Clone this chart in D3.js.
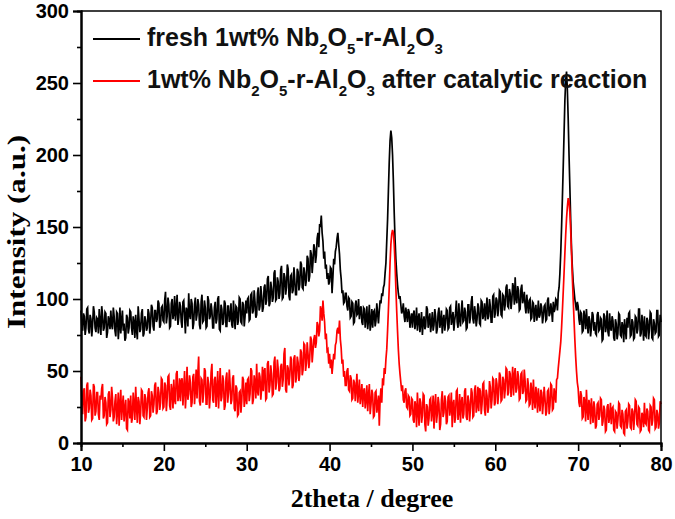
<!DOCTYPE html>
<html>
<head>
<meta charset="utf-8">
<script src="https://cdn.jsdelivr.net/npm/d3@7"></script>
<style>
  body { margin: 0; background: #fff; }
  svg { display: block; }
</style>
</head>
<body>
<div id="chart"></div>
<script>
// scan grid: 10 -> 80 deg, 0.1 deg step (one row = 2 deg)
var start = 10, step = 0.1;

var fresh = [
 92,81,78,90,88,75,80,93,94,79,76,89,86,74,82,95,91,80,77,87,
 86,76,93,84,75,95,89,78,80,91,90,73,77,88,85,79,92,82,79,94,
 88,78,74,91,90,72,81,94,76,85,92,78,83,71,73,89,87,76,80,92,
 91,80,75,88,84,73,89,79,72,95,86,77,79,90,93,74,76,88,85,78,
 80,93,90,76,83,96,94,81,78,92,92,84,86,99,97,80,82,94,95,85,
 84,99,105,83,88,101,96,80,81,97,100,86,90,102,85,93,103,82,87,98,
 95,84,80,98,99,88,76,94,92,81,104,89,86,100,97,79,83,96,101,85,
 89,100,96,82,79,98,103,84,85,99,94,80,81,102,99,86,88,97,92,80,
 80,94,98,83,86,100,102,79,78,96,93,82,84,99,97,81,81,95,95,84,
 87,97,82,80,99,88,79,95,94,82,85,101,100,84,83,98,96,81,88,99,
 90,100,101,85,86,103,104,90,92,106,98,87,89,104,108,92,95,109,102,91,
 94,108,110,96,99,114,116,95,97,112,107,98,101,118,120,99,100,115,112,100,
 104,120,123,100,101,118,115,103,108,124,121,102,99,116,117,104,106,122,113,103,
 103,121,119,106,110,126,124,108,107,122,118,109,113,130,128,112,116,134,131,118,
 126,138,135,125,130,142,146,136,152,150,158,146,140,128,133,121,124,114,118,110,
 112,122,121,104,115,128,124,133,136,142,146,138,131,120,114,104,106,97,98,104,
 104,95,92,101,100,87,88,98,97,83,84,96,99,89,90,100,86,93,95,84,
 82,94,93,80,87,95,79,86,96,78,84,93,80,91,92,81,85,97,90,83,
 92,99,97,104,102,108,110,118,125,140,155,175,195,210,217,212,200,182,160,142,
 128,118,110,104,100,102,96,90,92,97,88,84,94,89,84,93,91,80,86,90,
 80,89,92,79,84,94,78,86,90,77,83,91,75,84,88,79,81,95,93,80,
 85,90,77,83,91,78,82,93,88,76,79,90,94,80,84,92,76,85,89,78,
 83,93,92,79,80,94,95,82,86,91,78,85,90,99,84,80,97,86,81,92,
 99,84,85,94,91,79,80,96,96,83,87,98,102,86,83,95,90,81,86,97,
 94,83,82,99,98,86,89,97,85,92,101,86,88,100,95,84,84,102,103,87,
 90,101,99,88,93,106,105,89,88,103,102,92,96,108,110,95,94,107,104,93,
 99,111,108,96,115,100,97,109,106,92,93,107,110,97,100,105,95,90,103,96,
 90,99,100,86,87,98,97,84,92,96,85,89,99,87,89,97,94,83,88,95,
 96,85,86,99,101,88,90,97,92,84,98,91,93,100,99,92,104,108,118,132,
 150,170,192,215,238,252,258,245,225,200,178,155,135,122,112,106,100,96,92,98,
 95,86,82,91,90,77,78,92,87,79,93,84,76,88,85,74,80,91,89,78,
 84,76,75,89,91,78,79,87,86,71,72,90,88,77,81,92,77,74,90,80,
 78,88,85,73,71,86,83,72,76,90,89,75,74,84,81,70,86,79,72,87,
 80,90,91,74,75,86,84,72,73,88,87,76,79,93,93,74,76,89,82,71,
 88,75,74,87,85,72,79,91,90,73,72,86,83,76,77,92,92,74,75,89,
 84
];

var used = [
 46,30,20,36,38,15,18,40,42,21,24,37,33,16,17,41,39,19,22,35,
 35,20,16,33,30,38,41,17,19,32,28,13,14,34,36,18,23,39,31,15,
 18,29,34,13,22,35,12,27,37,16,26,33,15,24,30,10,9,31,28,17,
 33,14,17,35,27,16,39,25,14,32,29,13,21,37,36,19,18,34,31,16,
 24,35,38,18,19,36,33,21,27,40,42,20,22,39,35,23,28,45,44,24,
 25,42,40,22,31,46,47,26,23,41,36,24,44,30,27,48,50,29,33,45,
 29,43,45,26,38,50,24,35,53,30,34,47,42,25,28,46,48,27,37,51,
 31,48,60,29,26,45,44,28,35,52,50,27,27,46,41,24,33,49,55,30,
 28,44,46,25,37,50,24,38,52,29,32,47,43,23,26,45,49,28,35,51,
 40,27,30,45,47,24,22,40,38,19,20,35,36,21,29,46,44,25,31,42,
 27,44,45,29,34,52,50,27,30,47,42,31,55,36,33,49,46,30,38,53,
 36,50,52,30,31,55,57,35,40,54,48,33,34,56,60,37,42,58,51,36,
 38,53,55,39,44,62,66,37,35,54,52,40,47,60,58,38,40,59,61,42,
 45,60,56,43,48,65,63,47,51,69,68,50,55,70,62,52,58,74,72,56,
 64,72,75,66,70,84,82,74,78,95,92,85,99,90,84,72,76,64,65,55,
 62,52,58,48,55,62,58,68,70,78,80,76,85,72,66,55,58,46,50,40,
 40,50,52,37,36,47,45,30,31,44,42,29,38,48,28,35,44,27,33,41,
 25,36,38,24,30,40,22,33,41,20,27,37,34,18,19,35,36,21,26,33,
 12,30,38,28,45,40,52,48,58,65,78,92,108,125,138,145,148,146,138,125,
 108,92,78,65,55,48,42,36,40,30,28,36,38,25,24,33,32,19,20,31,
 30,16,14,29,26,11,35,22,12,31,28,14,19,34,33,13,8,27,25,12,
 17,30,31,15,22,33,10,26,34,14,20,32,27,9,13,30,36,18,21,33,
 29,13,15,32,33,19,24,35,11,27,30,14,18,36,37,16,22,34,14,28,
 32,17,20,36,38,18,16,33,29,15,24,38,35,18,19,37,40,21,26,39,
 22,38,36,20,27,41,42,23,19,37,33,21,25,43,39,24,30,45,44,26,
 28,45,41,27,34,49,47,29,30,46,44,31,37,52,51,33,35,50,48,32,
 42,53,33,47,52,35,38,50,46,30,31,48,49,34,36,51,43,29,30,45,
 40,26,27,42,36,23,44,30,24,39,33,21,38,28,22,37,35,20,28,39,
 31,19,22,36,37,20,26,41,40,23,24,38,33,28,44,45,52,58,64,70,
 80,92,105,118,132,145,156,164,170,168,160,148,132,115,100,86,72,60,50,42,
 38,28,25,36,33,17,18,32,29,15,37,24,16,30,26,13,31,22,14,29,
 24,10,12,27,28,16,19,31,30,12,15,26,23,8,9,25,27,14,18,28,
 13,24,25,9,8,22,21,10,16,28,27,12,11,23,20,7,6,22,23,10,
 15,27,26,11,10,24,22,9,17,30,29,13,12,25,24,8,9,21,19,11,
 28,14,13,24,22,9,8,26,25,12,16,31,30,10,11,23,20,10,14,29,
 27
];

var xTicks = [10, 20, 30, 40, 50, 60, 70, 80];
var xMinor = [15, 25, 35, 45, 55, 65, 75];
var yTicks = [0, 50, 100, 150, 200, 250, 300];
var yMinor = [25, 75, 125, 175, 225, 275];

var w = 675, h = 519;
var svg = d3.select("#chart").append("svg").attr("width", w).attr("height", h);

var x = d3.scaleLinear().domain([10, 80]).range([81, 661]);
var y = d3.scaleLinear().domain([0, 300]).range([443, 11]);

var line = d3.line()
  .x(function (d, i) { return x(start + i * step); })
  .y(function (d) { return y(d); });

svg.append("path").datum(fresh)
  .attr("d", line).attr("fill", "none")
  .attr("stroke", "#000").attr("stroke-width", 1.7);
svg.append("path").datum(used)
  .attr("d", line).attr("fill", "none")
  .attr("stroke", "#ff0000").attr("stroke-width", 1.7);

// frame top / right
svg.append("path")
  .attr("d", "M" + x(10) + "," + y(300) + "H" + x(80) + "V" + y(0))
  .attr("fill", "none").attr("stroke", "#000").attr("stroke-width", 1.5);

function styleAxis(g) {
  g.select(".domain").attr("stroke-width", 2);
  g.selectAll(".tick line").attr("stroke-width", 1.6);
  g.selectAll("text")
    .attr("font-family", "Arial, 'Liberation Sans', sans-serif")
    .attr("font-weight", "bold")
    .attr("font-size", "20px")
    .attr("fill", "#000");
}

svg.append("g").attr("transform", "translate(0," + y(0) + ")")
  .call(d3.axisBottom(x).tickValues(xTicks).tickSize(8).tickPadding(6).tickFormat(d3.format("d")))
  .call(styleAxis);
svg.append("g").attr("transform", "translate(0," + y(0) + ")")
  .call(d3.axisBottom(x).tickValues(xMinor).tickSize(4).tickFormat(""))
  .call(styleAxis);
svg.append("g").attr("transform", "translate(" + x(10) + ",0)")
  .call(d3.axisLeft(y).tickValues(yTicks).tickSize(8).tickPadding(4).tickFormat(d3.format("d")))
  .call(styleAxis);
svg.append("g").attr("transform", "translate(" + x(10) + ",0)")
  .call(d3.axisLeft(y).tickValues(yMinor).tickSize(4).tickFormat(""))
  .call(styleAxis);

// axis titles
svg.append("text")
  .attr("x", 372).attr("y", 507)
  .attr("text-anchor", "middle")
  .attr("font-family", "'Times New Roman', 'Liberation Serif', serif")
  .attr("font-weight", "bold").attr("font-size", "26px")
  .text("2theta / degree");
svg.append("text")
  .attr("transform", "translate(25,232) rotate(-90)")
  .attr("text-anchor", "middle")
  .attr("font-family", "'Times New Roman', 'Liberation Serif', serif")
  .attr("font-weight", "bold").attr("font-size", "25px")
  .attr("textLength", 194).attr("lengthAdjust", "spacingAndGlyphs")
  .text("Intensity (a.u.)");

// legend
var legend = [
  { color: "#000", parts: [["fresh 1wt% Nb"], ["2", 1], ["O"], ["5", 1], ["-r-Al"], ["2", 1], ["O"], ["3", 1]] },
  { color: "#ff0000", parts: [["1wt% Nb"], ["2", 1], ["O"], ["5", 1], ["-r-Al"], ["2", 1], ["O"], ["3", 1], [" after catalytic reaction"]] }
];
legend.forEach(function (item, i) {
  var ly = 39 + i * 42;
  svg.append("line").attr("x1", 93).attr("x2", 140).attr("y1", ly).attr("y2", ly)
    .attr("stroke", item.color).attr("stroke-width", 2);
  var t = svg.append("text").attr("x", 147).attr("y", ly + 7)
    .attr("font-family", "Arial, 'Liberation Sans', sans-serif")
    .attr("font-weight", "bold").attr("font-size", "25px").attr("fill", "#111");
  var sub = false;
  item.parts.forEach(function (p) {
    var s = t.append("tspan").text(p[0]);
    if (p[1] && !sub) { s.attr("dy", 8).attr("font-size", "15px"); sub = true; }
    else if (p[1] && sub) { s.attr("font-size", "15px"); }
    else if (!p[1] && sub) { s.attr("dy", -8); sub = false; }
  });
});
</script>
</body>
</html>
